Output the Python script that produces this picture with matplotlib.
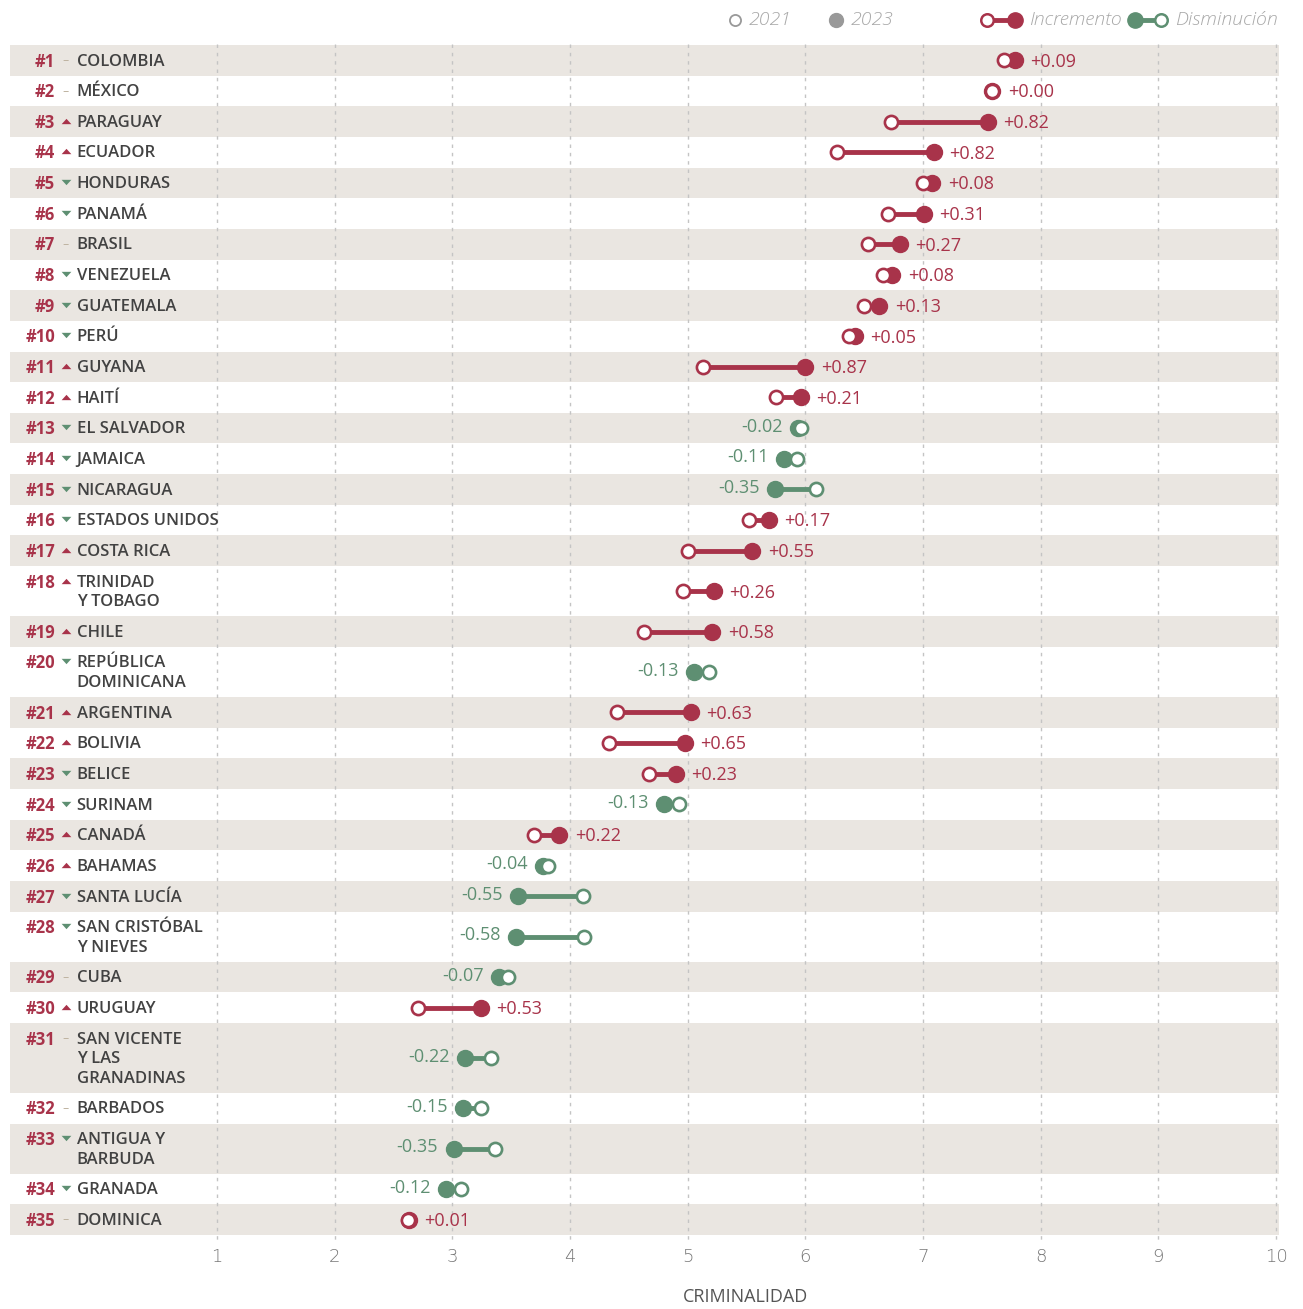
import matplotlib
matplotlib.use("Agg")
import matplotlib.pyplot as plt
from matplotlib.lines import Line2D
from matplotlib.transforms import blended_transform_factory

paises = ["COLOMBIA", "MÉXICO", "PARAGUAY", "ECUADOR", "HONDURAS", "PANAMÁ",
          "BRASIL", "VENEZUELA", "GUATEMALA", "PERÚ", "GUYANA", "HAITÍ",
          "EL SALVADOR", "JAMAICA", "NICARAGUA", "ESTADOS UNIDOS", "COSTA RICA",
          "TRINIDAD\nY TOBAGO", "CHILE", "REPÚBLICA\nDOMINICANA", "ARGENTINA",
          "BOLIVIA", "BELICE", "SURINAM", "CANADÁ", "BAHAMAS", "SANTA LUCÍA",
          "SAN CRISTÓBAL\nY NIEVES", "CUBA", "URUGUAY",
          "SAN VICENTE\nY LAS\nGRANADINAS", "BARBADOS", "ANTIGUA Y\nBARBUDA",
          "GRANADA", "DOMINICA"]
v2021 = [7.69, 7.59, 6.73, 6.27, 7.00, 6.70, 6.53, 6.66, 6.50, 6.37, 5.13, 5.75,
         5.96, 5.93, 6.09, 5.52, 5.00, 4.96, 4.63, 5.18, 4.40, 4.33, 4.67, 4.93,
         3.69, 3.81, 4.11, 4.12, 3.47, 2.71, 3.33, 3.24, 3.36, 3.07, 2.62]
v2023 = [7.78, 7.59, 7.55, 7.09, 7.08, 7.01, 6.80, 6.74, 6.63, 6.42, 6.00, 5.96,
         5.94, 5.82, 5.74, 5.69, 5.55, 5.22, 5.21, 5.05, 5.03, 4.98, 4.90, 4.80,
         3.91, 3.77, 3.56, 3.54, 3.40, 3.24, 3.11, 3.09, 3.01, 2.95, 2.63]
# cambio de posición en el ranking: 0 igual, 1 sube, -1 baja
cambio_rank = [0, 0, 1, 1, -1, -1, 0, -1, -1, -1, 1, 1, -1, -1, -1, -1, 1, 1, 1,
               -1, 1, 1, -1, -1, 1, 1, -1, -1, 0, 1, 0, 0, -1, -1, 0]
xticks = list(range(1, 11))

ROJO = "#a8334a"
VERDE = "#5e8f72"
BANDA = "#eae6e1"
TEXTO = "#424242"
GRIS = "#a8a8a8"
BEIGE = "#bdb29f"

W, H = 1303, 1309
fig = plt.figure(figsize=(W / 100, H / 100), dpi=100)
ax = fig.add_axes([10 / W, 1 - 1235 / H, 1269 / W, 1190 / H])

# alturas de filas según número de líneas
base, extra = 30.6, 19.5
tops, centros = [], []
y = 0
for nombre in paises:
    n = nombre.count("\n") + 1
    h = base + (n - 1) * extra
    tops.append(y)
    centros.append(y + h / 2)
    y += h
total = y

for i in range(len(paises)):
    if i % 2 == 0:
        h = (centros[i] - tops[i]) * 2
        ax.axhspan(tops[i], tops[i] + h, color=BANDA, lw=0, zorder=0)

for t in xticks:
    ax.plot([t, t], [-0.5, total + 6], ls=(0, (2.5, 3.5)), color="#c4c4c4",
            lw=1, zorder=1, clip_on=False)

tri_up = [(-1, -0.55), (1, -0.55), (0, 0.55)]
tri_dn = [(-1, 0.55), (1, 0.55), (0, -0.55)]

tr = blended_transform_factory(ax.transAxes, ax.transData)
for i, nombre in enumerate(paises):
    a, b = v2021[i], v2023[i]
    d = round(b - a, 2)
    col = ROJO if d >= 0 else VERDE
    yc = centros[i]
    ax.plot([a, b], [yc, yc], color=col, lw=3.5, zorder=2, solid_capstyle="butt")
    ax.plot(b, yc, "o", ms=11.5, color=col, mec=col, zorder=3)
    ax.plot(a, yc, "o", ms=9.5, mfc="white", mec=col, mew=1.9, zorder=4)
    if d >= 0:
        ax.annotate(f"+{abs(d):.2f}", (max(a, b), yc), xytext=(11, -1),
                    textcoords="offset points", ha="left", va="center",
                    color=col, fontsize=13, family="Open Sans")
    else:
        ax.annotate(f"-{abs(d):.2f}", (min(a, b), yc), xytext=(-11, 1),
                    textcoords="offset points", ha="right", va="center",
                    color=col, fontsize=13, family="Open Sans")

    ybase = tops[i] + 21.5
    ax.text(0.0355, ybase, f"#{i + 1}", transform=tr, ha="right", va="baseline",
            color=ROJO, fontsize=12, fontweight="bold", family="Open Sans")
    c = cambio_rank[i]
    if c == 0:
        ax.text(0.0441, ybase - 6, "–", transform=tr, ha="center", va="center",
                color=BEIGE, fontsize=9, family="DejaVu Sans")
    else:
        ax.plot(0.0441, ybase - 7, marker=tri_up if c > 0 else tri_dn,
                transform=tr, ms=7, color=ROJO if c > 0 else VERDE,
                mew=0, zorder=5, clip_on=False)
    ax.text(0.0525, tops[i] + 8.5, nombre, transform=tr, ha="left", va="top",
            color=TEXTO, fontsize=12, family="Open Sans", fontweight="semibold",
            linespacing=1.32)

ax.set_xlim(-0.759, 10.025)
ax.set_ylim(total, 0)
ax.set_yticks([])
ax.set_xticks(xticks)
ax.set_xticklabels([str(t) for t in xticks], color="#777777", fontsize=13,
                   family="DejaVu Sans", fontweight="light")
ax.tick_params(axis="x", length=0, pad=9)
for s in ax.spines.values():
    s.set_visible(False)


def fx(px):
    return px / W


def fy(py):
    return 1 - py / H


fig.text(fx(746), fy(1297), "CRIMINALIDAD", ha="center", va="center",
         color="#555555", fontsize=13, family="Open Sans")

# leyenda
ly = 20
fig.add_artist(Line2D([fx(735)], [fy(ly)], marker="o", ms=8, mfc="white",
                      mec="#999999", mew=1.3, ls="none"))
fig.text(fx(749), fy(ly), "2021", ha="left", va="center", color=GRIS,
         fontsize=14, style="italic", family="Open Sans", fontweight="light")
fig.add_artist(Line2D([fx(836)], [fy(ly)], marker="o", ms=10, color="#999999",
                      ls="none"))
fig.text(fx(851), fy(ly), "2023", ha="left", va="center", color=GRIS,
         fontsize=14, style="italic", family="Open Sans", fontweight="light")
fig.add_artist(Line2D([fx(987), fx(1015)], [fy(ly), fy(ly)], color=ROJO, lw=3.5))
fig.add_artist(Line2D([fx(1015)], [fy(ly)], marker="o", ms=11, color=ROJO, ls="none"))
fig.add_artist(Line2D([fx(987)], [fy(ly)], marker="o", ms=9, mfc="white", mec=ROJO,
                      mew=1.8, ls="none"))
fig.text(fx(1029), fy(ly), "Incremento", ha="left", va="center", color=GRIS,
         fontsize=14, style="italic", family="Open Sans", fontweight="light")
fig.add_artist(Line2D([fx(1135), fx(1161)], [fy(ly), fy(ly)], color=VERDE, lw=3.5))
fig.add_artist(Line2D([fx(1135)], [fy(ly)], marker="o", ms=11, color=VERDE, ls="none"))
fig.add_artist(Line2D([fx(1161)], [fy(ly)], marker="o", ms=9, mfc="white", mec=VERDE,
                      mew=1.8, ls="none"))
fig.text(fx(1175), fy(ly), "Disminución", ha="left", va="center", color=GRIS,
         fontsize=14, style="italic", family="Open Sans", fontweight="light")

fig.savefig("out.png", dpi=100, facecolor="white")
